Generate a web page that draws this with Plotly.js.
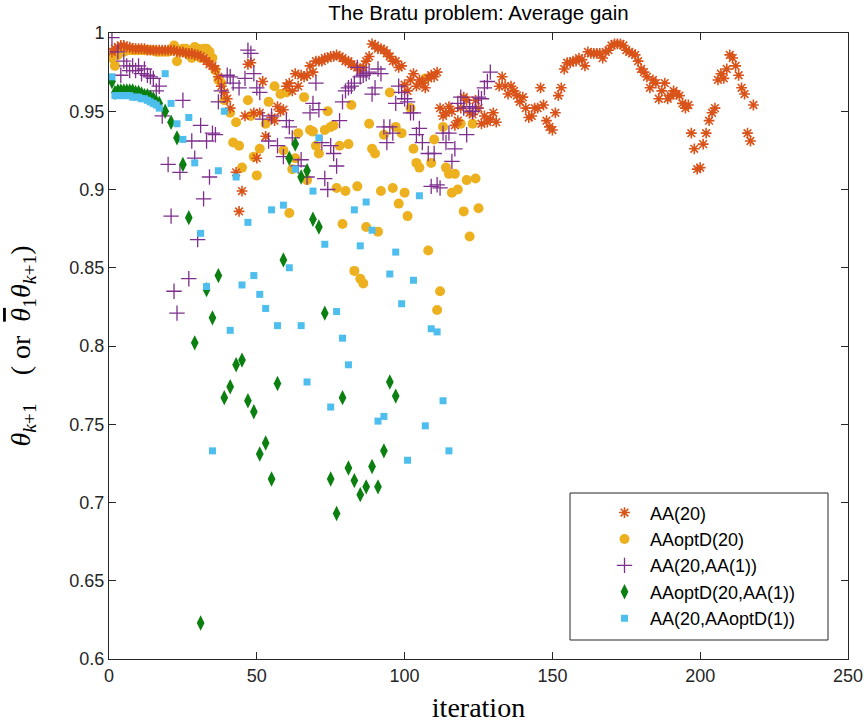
<!DOCTYPE html>
<html>
<head>
<meta charset="utf-8">
<script src="https://cdn.plot.ly/plotly-3.0.1.min.js"></script>
<style>html,body{margin:0;padding:0;background:#fff;}#chart{width:866px;height:724px;}</style>
</head>
<body>
<div id="chart"></div>
<script>
// Series names
const seriesNames = ['AA(20)', 'AAoptD(20)', 'AA(20,AA(1))', 'AAoptD(20,AA(1))', 'AA(20,AAoptD(1))'];

// Average gain per iteration (iteration = index + 1); null = not shown
const aa20 = [
 0.988,0.99,0.991,0.992,0.992,0.991,0.991,0.99,0.99,0.99,
 0.99,0.99,0.989,0.989,0.989,0.989,0.989,0.989,0.989,0.989,
 0.989,0.989,0.988,0.988,0.988,0.987,0.987,0.987,0.986,0.986,
 0.985,0.984,0.982,0.98,0.979,0.977,0.972,0.966,0.962,0.958,
 0.952,null,0.911,0.886,0.899,0.947,0.98,0.981,0.949,0.92,
 0.949,0.969,0.934,null,0.946,0.944,0.953,0.95,0.951,0.966,
 0.968,0.963,0.974,0.966,0.973,0.972,0.973,0.979,0.975,0.982,
 0.982,0.982,0.984,0.984,0.985,0.985,0.986,0.985,0.984,0.982,
 0.982,0.98,0.979,0.978,0.976,0.978,0.982,0.985,0.993,0.992,
 0.99,0.99,0.989,0.987,0.985,0.982,0.982,0.978,0.979,0.967,
 0.963,0.97,0.974,0.966,0.97,0.968,0.965,0.971,0.973,0.972,
 0.975,0.952,0.947,0.949,0.953,0.95,0.941,0.944,0.952,0.959,
 0.957,0.949,0.948,0.957,0.952,0.942,0.947,0.943,0.945,0.949,
 0.943,0.966,0.972,0.966,0.961,0.966,0.963,0.96,0.956,0.959,
 0.952,0.946,0.947,0.952,0.952,0.965,0.954,0.944,0.94,0.938,
 0.949,0.96,0.965,0.977,0.981,0.981,0.982,0.982,0.984,0.983,
 0.979,0.988,0.987,0.987,0.987,0.987,0.984,0.988,0.989,0.992,
 0.993,0.993,0.993,0.992,0.989,0.988,0.987,0.986,0.982,0.977,
 0.975,0.972,0.965,0.97,0.968,0.958,0.963,0.968,0.958,0.96,
 0.963,0.961,0.96,0.955,0.952,0.954,0.936,0.926,0.913,0.914,
 0.929,0.936,0.944,0.949,0.952,0.97,0.974,0.971,0.977,0.986,
 0.984,0.979,0.973,0.965,0.961,0.936,0.931,0.954
];

const aaOptD20 = [
 0.984,0.979,0.986,0.988,0.988,0.989,0.989,0.989,0.989,0.989,
 0.989,0.989,0.989,0.989,0.989,0.988,0.988,0.988,0.988,0.988,
 0.989,0.992,0.982,0.988,0.99,0.99,0.986,0.984,0.991,0.99,
 0.984,0.99,0.99,0.988,0.984,0.976,0.97,0.968,0.957,null,
 0.949,0.930,0.943,0.928,0.914,null,0.957,0.947,0.921,0.909,
 0.926,null,0.942,0.956,null,0.966,null,0.961,0.925,0.962,
 0.885,0.913,0.92,0.936,null,0.959,0.906,0.938,0.937,0.928,
 0.923,null,0.938,0.95,0.94,0.941,0.901,0.928,0.878,0.899,
 0.929,0.954,0.848,0.902,0.843,0.840,0.876,0.942,0.926,0.923,
 0.873,0.899,0.935,null,0.962,0.901,0.94,0.891,0.936,0.898,
 0.883,0.952,0.926,0.917,0.914,null,0.971,0.861,0.917,0.932,
 0.823,0.835,0.94,0.914,0.91,0.898,0.91,0.9,0.942,0.886,
 0.906,0.87,0.942,0.907,0.888
];

const aa20aa1 = [
 0.997,null,0.988,0.973,0.982,0.979,0.976,0.979,0.976,0.979,
 0.974,0.977,0.973,0.972,0.971,0.963,0.966,0.947,null,0.916,
 0.883,0.835,0.821,0.911,0.957,null,0.843,0.931,0.92,0.868,
 0.941,0.894,0.931,0.908,0.936,0.935,0.956,0.963,null,0.973,
 0.972,0.968,null,0.965,null,0.971,0.989,0.987,0.974,0.965,
 0.962,0.945,null,0.931,0.947,null,0.928,null,0.921,0.944,
 0.94,0.933,null,0.915,0.919,null,0.908,0.949,0.955,0.968,
 0.951,0.93,0.907,0.9,0.928,0.923,0.915,0.944,0.956,0.963,
 0.965,0.966,0.968,0.978,0.972,0.973,0.974,0.975,0.961,0.965,
 0.977,0.974,0.94,0.93,0.94,0.936,0.955,0.966,0.962,0.958,
 0.956,0.949,0.949,0.935,0.939,0.93,null,0.923,0.902,0.923,
 0.903,0.901,0.936,0.93,0.936,0.918,0.926,0.955,0.959,0.952,
 0.935,0.953,0.95,0.952,0.959,0.958,0.965,0.969,0.975
];

const aaOptD20aa1 = [
 0.969,0.962,0.963,0.963,0.963,0.963,0.963,0.963,0.962,0.962,
 0.961,0.96,0.96,0.959,0.958,0.956,0.955,null,0.95,null,
 0.943,null,0.933,null,0.916,null,0.882,null,0.802,null,
 0.623,null,0.836,null,0.818,null,0.845,null,0.767,null,
 0.774,null,0.788,null,0.791,null,0.765,null,0.758,null,
 0.731,null,0.738,null,0.715,null,0.776,null,0.855,null,
 0.92,null,0.929,null,0.908,null,0.912,null,0.881,null,
 0.876,null,0.821,null,0.715,null,0.693,null,0.767,null,
 0.722,null,0.714,null,0.705,null,0.71,null,0.723,null,
 0.71,null,0.733,null,0.777,null,0.768
];

const aa20aaOptD1 = [
 0.972,0.96,0.96,0.96,0.96,0.96,0.96,0.959,0.959,0.959,
 0.958,0.958,0.957,0.956,0.955,0.954,0.952,null,0.974,null,
 0.955,null,0.942,null,0.932,null,0.946,null,0.917,null,
 0.872,null,0.838,null,0.733,null,0.912,null,0.95,null,
 0.81,null,0.908,null,0.839,null,0.879,null,0.845,null,
 0.833,null,0.824,null,0.887,null,0.813,null,0.89,null,
 0.85,null,0.913,null,0.813,null,0.777,null,0.899,null,
 0.933,null,0.865,null,0.761,null,0.822,null,0.805,null,
 0.788,null,0.887,null,0.864,null,0.892,null,0.874,null,
 0.752,null,0.755,null,0.846,null,0.86,null,0.827,null,
 0.727,null,0.842,null,0.896,null,0.749,null,0.811,null,
 0.809,null,0.765,null,0.733
];

const xTicks = [0, 50, 100, 150, 200, 250];
const yTicks = [0.6, 0.65, 0.7, 0.75, 0.8, 0.85, 0.9, 0.95, 1];

const iters = arr => arr.map((_, i) => i + 1);

const AXC = '#262626';
const sans = 'Liberation Sans, Arial, Helvetica, sans-serif';
const serif = 'Liberation Serif, DejaVu Serif, serif';

const traces = [
  {name: seriesNames[1], legendrank: 2, y: aaOptD20, x: iters(aaOptD20), type: 'scatter', mode: 'markers',
   marker: {symbol: 'circle', size: 10, color: '#EDB120', line: {width: 0}}},
  {name: seriesNames[0], legendrank: 1, y: aa20, x: iters(aa20), type: 'scatter', mode: 'markers',
   marker: {symbol: 'asterisk-open', size: 9, color: '#D95319', line: {width: 1.6, color: '#D95319'}}},
  {name: seriesNames[2], legendrank: 3, y: aa20aa1, x: iters(aa20aa1), type: 'scatter', mode: 'markers',
   marker: {symbol: 'cross-thin-open', size: 11, color: '#7E2F8E', line: {width: 1.3, color: '#7E2F8E'}}},
  {name: seriesNames[3], legendrank: 4, y: aaOptD20aa1, x: iters(aaOptD20aa1), type: 'scatter', mode: 'markers',
   marker: {symbol: 'diamond-tall', size: 11, color: '#0B7F10', line: {width: 0}}},
  {name: seriesNames[4], legendrank: 5, y: aa20aaOptD1, x: iters(aa20aaOptD1), type: 'scatter', mode: 'markers',
   marker: {symbol: 'square', size: 7, color: '#4DBEEE', line: {width: 0}}}
];
traces.forEach((t, i) => { t.legendgroup = 'g' + i; t.cliponaxis = true; });

const axisCommon = {
  ticks: 'inside', ticklen: 7, tickwidth: 1, tickcolor: AXC,
  showline: true, linecolor: AXC, linewidth: 1, mirror: 'ticks',
  showgrid: false, zeroline: false,
  tickfont: {family: sans, size: 18, color: AXC}
};

const layout = {
  width: 866, height: 724,
  margin: {l: 109, r: 18, t: 33, b: 65, autoexpand: false},
  paper_bgcolor: '#ffffff', plot_bgcolor: '#ffffff',
  font: {family: sans, size: 18, color: AXC},
  showlegend: true,
  title: {text: 'The Bratu problem: Average gain', font: {family: sans, size: 20.5, color: '#000'},
          x: 0.5, xref: 'paper', xanchor: 'center', y: 1 - 13 / 724, yref: 'container', yanchor: 'middle'},
  xaxis: Object.assign({}, axisCommon, {
    range: [0, 250], tickvals: xTicks,
    title: {text: 'iteration', font: {family: serif, size: 28, color: '#000'}, standoff: 12}
  }),
  yaxis: Object.assign({}, axisCommon, {
    range: [0.6, 1], tickvals: yTicks,
    title: {text: '<i>θ</i><sub><i>k</i>+1</sub>    ( or  <span style="text-decoration:overline"><i>θ</i></span><sub>1</sub><i>θ</i><sub><i>k</i>+1</sub>)',
            font: {family: serif, size: 28, color: '#000'}, standoff: 30}
  }),
  legend: {
    x: (599 - 109) / 739, xanchor: 'left', y: 0.263, yanchor: 'top',
    bgcolor: 'rgba(0,0,0,0)', borderwidth: 0, itemwidth: 41,
    font: {family: sans, size: 18, color: '#000'},
    tracegroupgap: 3.3, traceorder: 'normal'
  },
  shapes: [{
    type: 'rect', xref: 'paper', yref: 'paper', layer: 'above',
    x0: (570 - 109) / 739, x1: (828 - 109) / 739, y0: (659 - 640) / 626, y1: (659 - 493) / 626,
    line: {color: AXC, width: 1}, fillcolor: 'rgba(255,255,255,0)'
  }]
};

Plotly.newPlot('chart', traces, layout, {displayModeBar: false, staticPlot: true});
</script>
</body>
</html>
